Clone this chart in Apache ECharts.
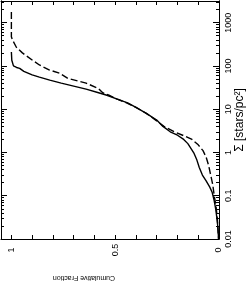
<!DOCTYPE html>
<html>
<head>
<meta charset="utf-8">
<script src="https://cdn.jsdelivr.net/npm/echarts@6/dist/echarts.min.js"></script>
<style>
html,body{margin:0;padding:0;background:#fff;}
#chart{width:249px;height:285px;}
</style>
</head>
<body>
<div id="chart"></div>
<script>
// Solid curve: surface density (stars/pc^2) and cumulative fraction
const solidSigma = [210, 135, 100, 92, 88, 75, 62, 55, 47, 40, 36, 29, 24, 21, 17, 14, 11, 8, 5.6, 4.0, 3.0, 2.5, 2.0, 1.6, 1.2, 0.95, 0.7, 0.45, 0.3, 0.22, 0.16, 0.12, 0.08, 0.05, 0.03, 0.02, 0.01];
const solidFrac  = [1.0, 0.998, 0.99, 0.975, 0.96, 0.94, 0.90, 0.865, 0.815, 0.76, 0.72, 0.64, 0.58, 0.54, 0.49, 0.44, 0.40, 0.35, 0.30, 0.27, 0.235, 0.2, 0.17, 0.15, 0.133, 0.12, 0.108, 0.095, 0.08, 0.062, 0.045, 0.033, 0.024, 0.016, 0.01, 0.006, 0.002];
// Dashed curve
const dashedSigma = [1750, 470, 400, 270, 200, 135, 105, 80, 68, 52, 40, 30, 24, 21, 17, 14, 11, 8, 5.6, 4.0, 3.0, 2.5, 2.0, 1.5, 1.1, 0.78, 0.5, 0.3, 0.18, 0.1, 0.06, 0.03, 0.01];
const dashedFrac  = [1.0, 1.0, 0.995, 0.976, 0.947, 0.898, 0.865, 0.816, 0.768, 0.73, 0.64, 0.58, 0.56, 0.53, 0.49, 0.445, 0.40, 0.35, 0.305, 0.265, 0.215, 0.175, 0.13, 0.10, 0.077, 0.062, 0.05, 0.04, 0.03, 0.023, 0.015, 0.008, 0.002];

// Axis ticks and labels
const sigmaTickValues = [0.01, 0.1, 1, 10, 100, 1000];
const sigmaTickLabels = ['0.01', '0.1', '1', '10', '100', '1000'];
const minorMultipliers = [2, 3, 4, 5, 6, 7, 8, 9];
const fracTickValues = [0, 0.5, 1];
const fracTickLabels = ['0', '0.5', '1'];

const sigmaMin = 0.01, sigmaMax = 3162;
const fracMin = 0, fracMax = 1.05;

const sigmaMinor = [];
sigmaTickValues.forEach(d => minorMultipliers.forEach(m => {
  const v = +(d * m).toPrecision(6);
  if (v <= sigmaMax) sigmaMinor.push(v);
}));

const FONT = 'Liberation Sans';
const black = '#000';

function zip(a, b) { return a.map((v, i) => [b[i], v]); }

function logAxis(position, tickValues, len, showLabel) {
  const ax = {
    type: 'log', logBase: 10, min: sigmaMin, max: sigmaMax, position: position,
    axisLine: {show: true, lineStyle: {color: black, width: 1}},
    axisTick: {show: true, inside: true, length: len, customValues: tickValues, lineStyle: {color: black, width: 1}},
    splitLine: {show: false},
    axisLabel: {show: false}
  };
  if (showLabel) {
    ax.axisLabel = {
      show: true, customValues: sigmaTickValues, rotate: 90, margin: 5,
      align: 'center', verticalAlign: 'top',
      color: black, fontFamily: FONT, fontSize: 9,
      formatter: v => {
        let best = 0, bd = Infinity;
        sigmaTickValues.forEach((t, i) => { const d = Math.abs(Math.log10(v) - Math.log10(t)); if (d < bd) { bd = d; best = i; } });
        return bd < 1e-6 ? sigmaTickLabels[best] : '';
      }
    };
    ax.name = 'Σ [stars/pc²]';
    ax.nameLocation = 'middle';
    ax.nameGap = 15;
    ax.nameMoveOverlap = false;
    ax.nameTextStyle = {color: black, fontFamily: FONT, fontSize: 12};
  }
  return ax;
}

function fracAxis(position, showLabel) {
  const ax = {
    type: 'value', min: fracMin, max: fracMax, interval: 0.1, inverse: true, position: position,
    axisLine: {show: true, lineStyle: {color: black, width: 1}},
    axisTick: {show: true, inside: true, length: 4, lineStyle: {color: black, width: 1}},
    splitLine: {show: false},
    axisLabel: {show: false}
  };
  if (showLabel) {
    ax.axisLabel = {
      show: true, customValues: fracTickValues, rotate: 90, margin: 11,
      align: 'center', verticalAlign: 'middle',
      color: black, fontFamily: FONT, fontSize: 9,
      formatter: v => {
        const i = fracTickValues.findIndex(t => Math.abs(t - v) < 1e-9);
        return i >= 0 ? fracTickLabels[i] : '';
      }
    };
    ax.name = 'Cumulative Fraction';
    ax.nameLocation = 'middle';
    ax.nameGap = 35;
    ax.nameRotate = 180;
    ax.nameMoveOverlap = false;
    ax.nameTextStyle = {color: black, fontFamily: FONT, fontSize: 7, padding: [0, 0, 0, 52]};
  }
  return ax;
}

const chart = echarts.init(document.getElementById('chart'), null, {renderer: 'canvas'});
chart.setOption({
  animation: false,
  backgroundColor: '#fff',
  grid: {left: 1, top: 1, right: 30, bottom: 46, containLabel: false, outerBoundsMode: 'none'},
  xAxis: [fracAxis('bottom', true), fracAxis('top', false)],
  yAxis: [
    logAxis('right', sigmaTickValues, 6, true),
    logAxis('right', sigmaMinor, 3, false),
    logAxis('left', sigmaTickValues, 6, false),
    logAxis('left', sigmaMinor, 3, false)
  ],
  series: [
    {type: 'line', xAxisIndex: 0, yAxisIndex: 0, data: zip(solidSigma, solidFrac), showSymbol: false, symbol: 'none',
     lineStyle: {color: black, width: 1.4, type: 'solid'}},
    {type: 'line', xAxisIndex: 0, yAxisIndex: 0, data: zip(dashedSigma, dashedFrac), showSymbol: false, symbol: 'none',
     lineStyle: {color: black, width: 1.4, type: [7, 3]}}
  ]
});
</script>
</body>
</html>
